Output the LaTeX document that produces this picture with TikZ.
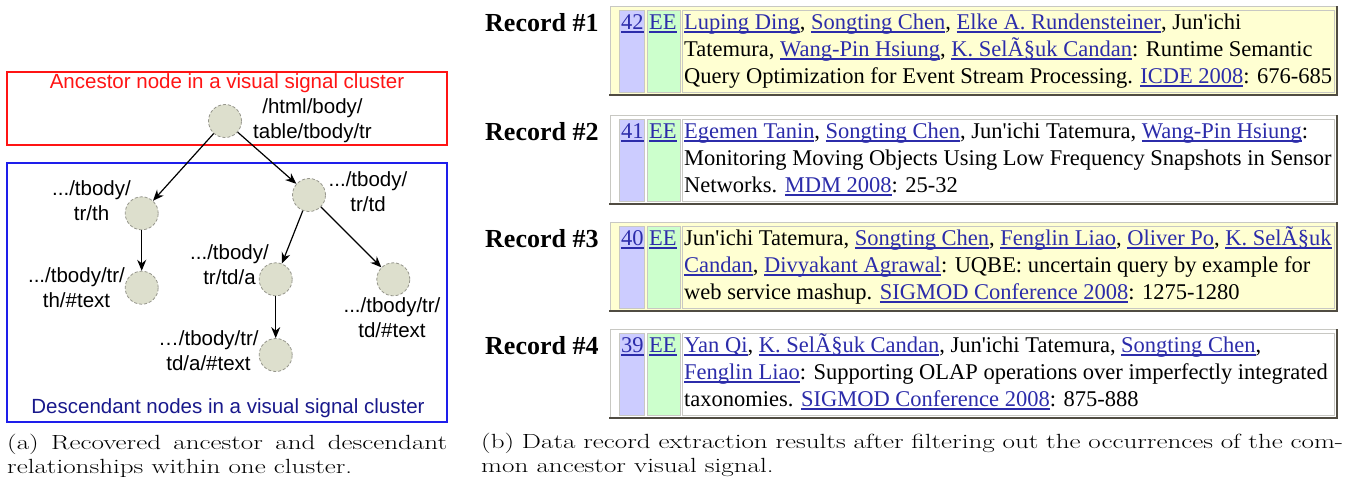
\documentclass[tikz,border=0pt]{standalone}
\usepackage{fontspec}
\usepackage{graphicx}
\usetikzlibrary{arrows.meta}
\newfontfamily\labfont{Liberation Sans}
\newfontfamily\recfont[Ligatures=TeXOff]{Liberation Serif}
\definecolor{linkc}{RGB}{44,44,170}
\definecolor{recyellow}{RGB}{255,255,210}
\definecolor{cellblue}{RGB}{204,204,255}
\definecolor{cellgreen}{RGB}{204,255,204}
\definecolor{darkedge}{RGB}{80,76,66}
\definecolor{lightedge}{RGB}{200,200,195}
\definecolor{nodefill}{RGB}{221,223,205}
\definecolor{nodeborder}{RGB}{150,150,140}
\definecolor{ancred}{RGB}{255,20,20}
\definecolor{descblue}{RGB}{25,25,140}
\definecolor{boxblue}{RGB}{30,30,235}
\newcommand\lnk[1]{{\color{linkc}\setbox0=\hbox{#1}\rlap{\rule[-3.5pt]{\wd0}{1.1pt}}\box0}}
\newcommand\rl[1]{\hbox{#1}}
\newcommand\recbox[6]{% id, top, bg, number, label, text
  \pgfmathsetmacro\rbot{#2+89}
  \fill[#3] (610,#2) rectangle (1337,\rbot);
  \draw[lightedge, line width=1pt] (610,\rbot) -- (610,#2) -- (1337,#2);
  \draw[darkedge, line width=2pt] (609,\rbot) -- (1337,\rbot) -- (1337,#2);
  \filldraw[fill=cellblue, draw=lightedge, line width=0.7pt] (619,#2+4) rectangle (644,\rbot-3);
  \filldraw[fill=cellgreen, draw=lightedge, line width=0.7pt] (647,#2+4) rectangle (680,\rbot-3);
  \draw[lightedge, line width=0.7pt] (682,#2+4) rectangle (1334,\rbot-3);
  \node[rectext, anchor=base west] (#1n) at (621,#2+23) {\lnk{#4}};
  \node[rectext, anchor=base west] (#1e) at (649,#2+23) {\lnk{EE}};
  \node[reclab, anchor=west] (#1l) at (485,#2+17) {#5};
  \node[rectext, anchor=base west] (#1t) at (684,#2+23) {\vtop{\baselineskip=27pt #6}};
}
\begin{document}
\begin{tikzpicture}[x=1pt,y=-1pt,
  tnode/.style={circle, minimum size=33pt, inner sep=0pt, fill=nodefill, draw=nodeborder, densely dashed, line width=0.8pt},
  lbl/.style={font=\labfont\fontsize{20.5}{25}\selectfont, align=center, inner sep=0pt},
  ttl/.style={font=\labfont\fontsize{20.5}{25}\selectfont, inner sep=0pt},
  conn/.style={-{Stealth[length=11pt,width=9pt]}, line width=1.2pt, black},
  rectext/.style={font=\recfont\fontsize{22.5}{27}\selectfont, inner sep=0pt},
  reclab/.style={font=\recfont\bfseries\fontsize{26}{30}\selectfont, inner sep=0pt},
  captext/.style={font=\fontsize{20.5}{24}\selectfont, inner sep=0pt}]
\useasboundingbox (0,0) rectangle (1348,480);
\fill[white] (0,0) rectangle (1348,480);
% left panel boxes
\draw[ancred, line width=1.5pt] (7,72) rectangle (447,145);
\draw[boxblue, line width=1.5pt] (7,163) rectangle (447,422);
\node[ttl, text=ancred] (anct) at (227,83) {Ancestor node in a visual signal cluster};
\node[ttl, text=descblue] (desct) at (228,408) {Descendant nodes in a visual signal cluster};
% tree nodes
\node[tnode] (root) at (225,121) {};
\node[tnode] (th) at (141.7,213.3) {};
\node[tnode] (td) at (309,195) {};
\node[tnode] (thx) at (141.7,287.7) {};
\node[tnode] (tda) at (275.7,279.3) {};
\node[tnode] (tdx) at (393.3,279.3) {};
\node[tnode] (tdax) at (275.7,355) {};
% labels
\node[lbl] (lroot) at (312.5,120.5) {/html/body/\\table/tbody/tr};
\node[lbl] (lth) at (91.5,200.5) {.../tbody/\\tr/th};
\node[lbl] (ltd) at (368,191.5) {.../tbody/\\tr/td};
\node[lbl] (ltda) at (229.5,264.5) {.../tbody/\\tr/td/a};
\node[lbl] (lthx) at (76.5,287.5) {.../tbody/tr/\\th/\#text};
\node[lbl] (ltdx) at (392,318) {.../tbody/tr/\\td/\#text};
\node[lbl] (ltdax) at (208.5,350.5) {…/tbody/tr/\\td/a/\#text};
% edges
\draw[conn] (root) -- (th);
\draw[conn] (root) -- (td);
\draw[conn] (th) -- (thx);
\draw[conn] (td) -- (tda);
\draw[conn] (td) -- (tdx);
\draw[conn] (tda) -- (tdax);
% records
\recbox{r1}{6}{recyellow}{42}{Record \#1}{%
 \rl{\lnk{Luping Ding}, \lnk{Songting Chen}, \lnk{Elke A. Rundensteiner}, Jun'ichi}%
 \rl{Tatemura, \lnk{Wang-Pin Hsiung}, \lnk{K. SelÃ§uk Candan}: Runtime Semantic}%
 \rl{Query Optimization for Event Stream Processing. \lnk{ICDE 2008}: 676-685}}
\recbox{r2}{115}{white}{41}{Record \#2}{%
 \rl{\lnk{Egemen Tanin}, \lnk{Songting Chen}, Jun'ichi Tatemura, \lnk{Wang-Pin Hsiung}:}%
 \rl{Monitoring Moving Objects Using Low Frequency Snapshots in Sensor}%
 \rl{Networks. \lnk{MDM 2008}: 25-32}}
\recbox{r3}{222}{recyellow}{40}{Record \#3}{%
 \rl{Jun'ichi Tatemura, \lnk{Songting Chen}, \lnk{Fenglin Liao}, \lnk{Oliver Po}, \lnk{K. SelÃ§uk}}%
 \rl{\lnk{Candan}, \lnk{Divyakant Agrawal}: UQBE: uncertain query by example for}%
 \rl{web service mashup. \lnk{SIGMOD Conference 2008}: 1275-1280}}
\recbox{r4}{329}{white}{39}{Record \#4}{%
 \rl{\lnk{Yan Qi}, \lnk{K. SelÃ§uk Candan}, Jun'ichi Tatemura, \lnk{Songting Chen},}%
 \rl{\lnk{Fenglin Liao}: Supporting OLAP operations over imperfectly integrated}%
 \rl{taxonomies. \lnk{SIGMOD Conference 2008}: 875-888}}
% captions
\node[captext, anchor=base west] (capa1) at (7,449) {\scalebox{1.32}[1]{\makebox[333.3pt][s]{(a) Recovered ancestor and descendant}}};
\node[captext, anchor=base west] (capa2) at (7,473) {\scalebox{1.32}[1]{relationships within one cluster.}};
\node[captext, anchor=base west] (capb1) at (481,448) {\scalebox{1.32}[1]{\makebox[653pt][s]{(b) Data record extraction results after filtering out the occurrences of the com-}}};
\node[captext, anchor=base west] (capb2) at (481,472) {\scalebox{1.32}[1]{mon ancestor visual signal.}};
\end{tikzpicture}
\end{document}
